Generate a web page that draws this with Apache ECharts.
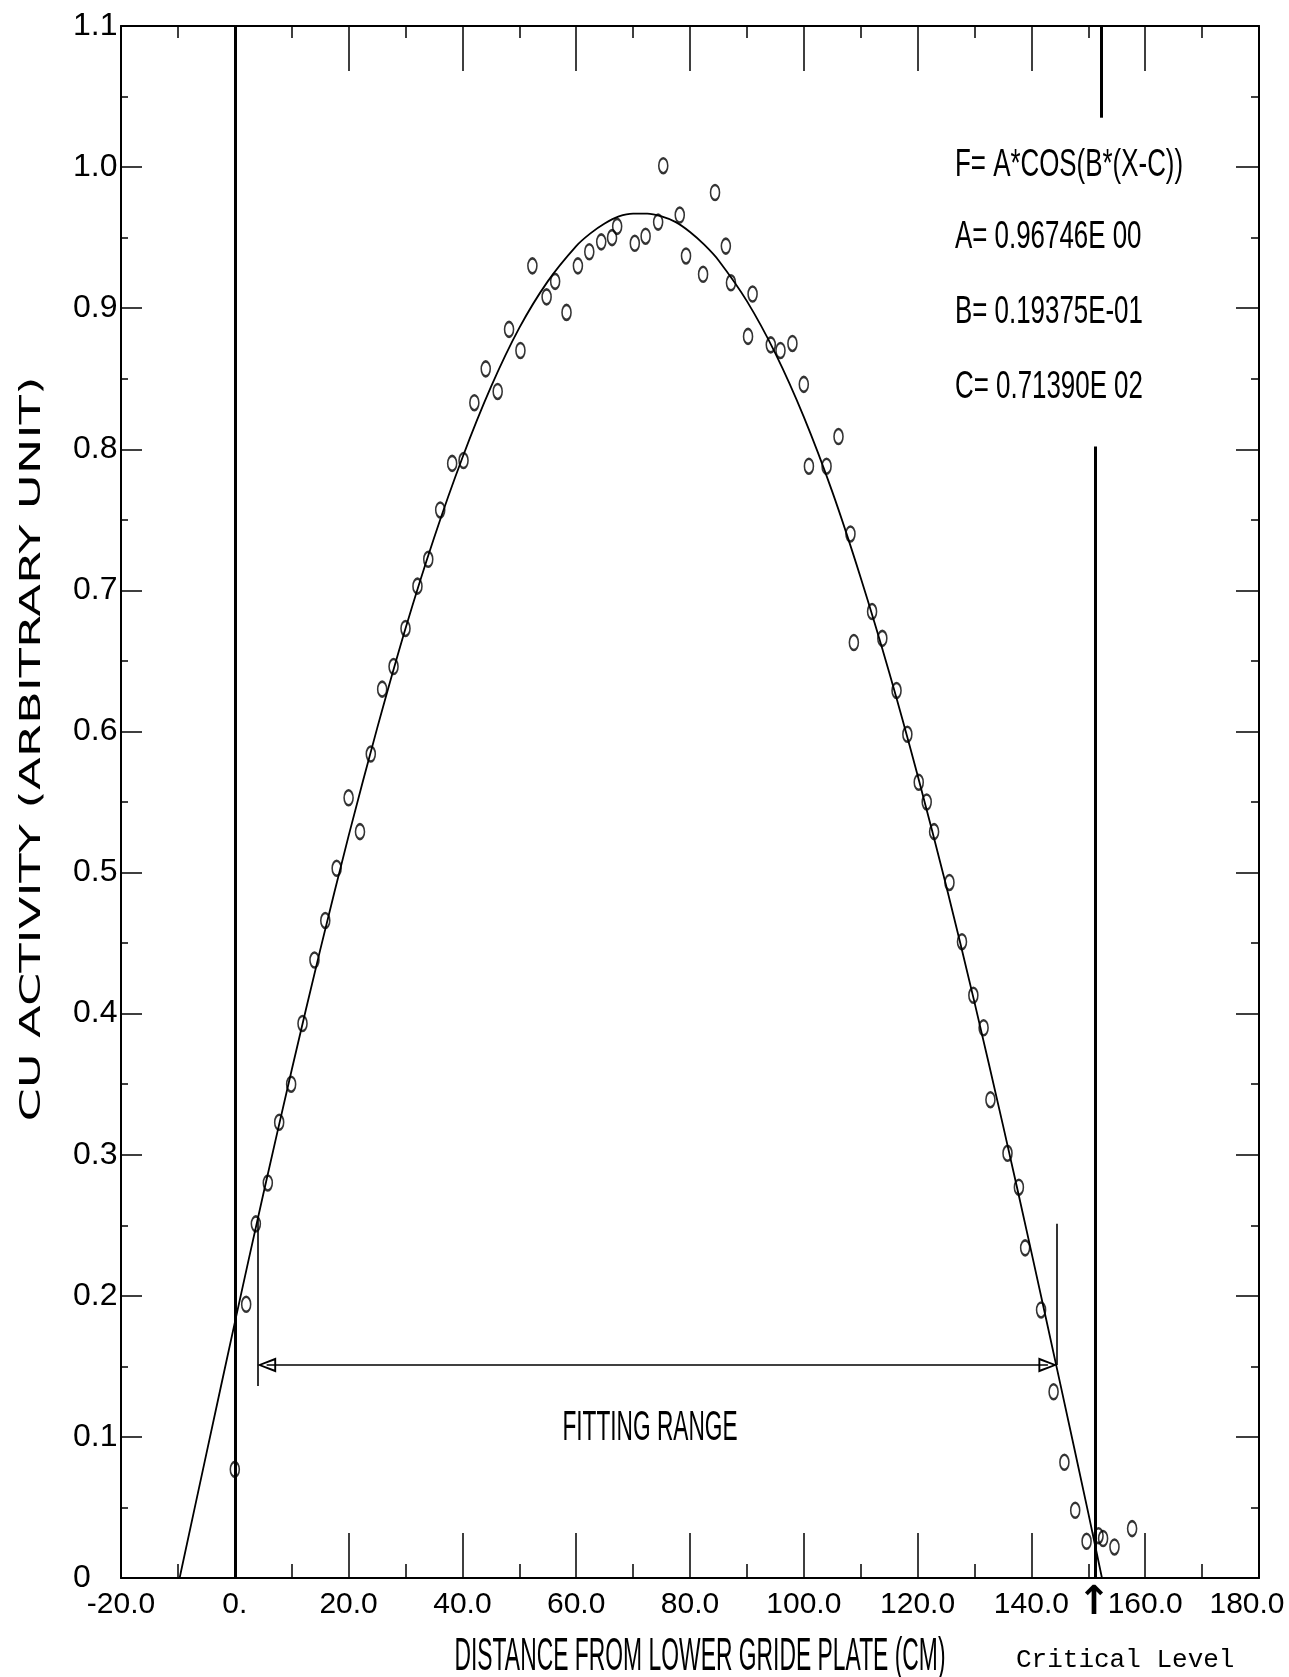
<!DOCTYPE html>
<html>
<head>
<meta charset="utf-8">
<script src="https://cdn.jsdelivr.net/npm/echarts/dist/echarts.min.js"></script>
<style>
html,body{margin:0;padding:0;background:#fff;}
#c{width:1289px;height:1677px;}
</style>
</head>
<body>
<div id="c"></div>
<script>
// ---------- data ----------
const xTickValues = [-20, 0, 20, 40, 60, 80, 100, 120, 140, 160, 180];
const xTickLabels = ['-20.0', '0.', '20.0', '40.0', '60.0', '80.0', '100.0', '120.0', '140.0', '160.0', '180.0'];
const yTickLabels = ['0', '0.1', '0.2', '0.3', '0.4', '0.5', '0.6', '0.7', '0.8', '0.9', '1.0', '1.1'];

// measured Cu activity (open "0" markers)
const pointX = [0.0, 2.0, 3.7, 5.8, 7.8, 9.9, 11.9, 14.0, 15.9, 17.9, 20.0, 22.0, 23.9, 25.9, 27.9, 30.0, 32.1, 34.0, 36.1, 38.2,
  40.2, 42.1, 44.1, 46.2, 48.2, 50.2, 52.3, 54.8, 56.3, 58.3, 60.3, 62.3, 64.4, 66.3, 67.2, 70.3, 72.2, 74.4, 75.3, 78.2,
  79.3, 82.3, 84.4, 86.3, 87.2, 90.2, 91.0, 94.2, 95.9, 98.0, 100.0, 100.9, 104.0, 106.1, 108.2, 108.8, 112.0, 113.8, 116.3, 118.2,
  120.2, 121.6, 122.9, 125.6, 127.8, 129.8, 131.6, 132.8, 135.8, 137.8, 138.9, 141.7, 143.9, 145.8, 147.7, 149.7, 151.8, 152.6, 154.6, 157.7];
const pointY = [0.077, 0.194, 0.251, 0.280, 0.323, 0.350, 0.393, 0.438, 0.466, 0.503, 0.553, 0.529, 0.584, 0.630, 0.646, 0.673, 0.703, 0.722, 0.757, 0.790,
  0.792, 0.833, 0.857, 0.841, 0.885, 0.870, 0.930, 0.908, 0.919, 0.897, 0.930, 0.940, 0.947, 0.950, 0.958, 0.946, 0.951, 0.961, 1.001, 0.966,
  0.937, 0.924, 0.982, 0.944, 0.918, 0.880, 0.910, 0.874, 0.870, 0.875, 0.846, 0.788, 0.788, 0.809, 0.740, 0.663, 0.685, 0.666, 0.629, 0.598,
  0.564, 0.550, 0.529, 0.493, 0.451, 0.413, 0.390, 0.339, 0.301, 0.277, 0.234, 0.190, 0.132, 0.082, 0.048, 0.026, 0.030, 0.028, 0.022, 0.035];

// fitted cosine curve as drawn
const curveX = [-9.7, -5, 0, 5, 10, 15, 20, 25, 30, 35, 40, 45, 50, 55, 60, 62.5, 65, 67.5, 70, 72.5, 75, 77.5, 80, 82.5, 85, 90, 95, 100, 105, 110, 115, 120, 125, 130, 135, 140, 145, 150, 152.4];
const curveY = [0, 0.088, 0.181, 0.272, 0.360, 0.445, 0.526, 0.602, 0.673, 0.737, 0.794, 0.844, 0.886, 0.919, 0.944, 0.953, 0.960, 0.965, 0.967, 0.967, 0.965, 0.961, 0.954, 0.945, 0.934, 0.905, 0.868, 0.823, 0.770, 0.709, 0.642, 0.569, 0.491, 0.408, 0.321, 0.231, 0.139, 0.046, 0];

// reference lines (data coordinates)
const plateX = 0;
const criticalTopX = 152.2, criticalTopY = [1.035, 1.1];
const criticalLowX = 151.3, criticalLowY = [0, 0.802];
const fitLeftX = 4.0, fitLeftY = [0.136, 0.255];
const fitRightX = 144.5, fitRightY = [0.151, 0.251];
const fitArrowY = 0.151;

const formulaLines = ['F= A*COS(B*(X-C))', 'A= 0.96746E 00', 'B= 0.19375E-01', 'C= 0.71390E 02'];

// ---------- chart ----------
const BLACK = '#000';
const tickFont = "'Liberation Sans Narrow', 'Liberation Sans', Arial, sans-serif";

function xLabel(v) {
  const i = Math.round((v + 20) / 20);
  const t = xTickLabels[i] || '';
  return i === xTickLabels.length - 1 ? '{last|' + t + '}' : t;
}
function yLabel(v) { const i = Math.round(v * 10); return yTickLabels[i] || ''; }

const arrowHead = 'path://M0,0 L10,20 L-10,20 Z M0,5 L-6,18 L6,18 Z';
const headShift = 1.6;

const chart = echarts.init(document.getElementById('c'), null, {renderer: 'canvas', width: 1289, height: 1677});

const thinStyle = {color: BLACK, width: 1.6, type: 'solid'};

chart.setOption({
  animation: false,
  backgroundColor: '#fff',
  grid: {left: 121, right: 30, top: 26, bottom: 99, containLabel: false, outerBoundsMode: 'none'},
  xAxis: [
    {
      type: 'value', min: -20, max: 180, interval: 20, position: 'bottom',
      axisLine: {show: true, onZero: false, lineStyle: {color: BLACK, width: 2}},
      axisTick: {show: true, inside: true, length: 45, lineStyle: {color: BLACK, width: 1.5}},
      minorTick: {show: true, splitNumber: 2, length: 14, lineStyle: {color: BLACK, width: 1.5}},
      splitLine: {show: false}, minorSplitLine: {show: false},
      axisLabel: {
        show: true, formatter: xLabel, color: BLACK, fontFamily: tickFont, fontSize: 30, margin: 12,
        showMinLabel: true, showMaxLabel: true, hideOverlap: false,
        rich: {last: {fontFamily: tickFont, fontSize: 30, color: BLACK, padding: [0, 24, 0, 0]}}
      }
    },
    {
      type: 'value', min: -20, max: 180, interval: 20, position: 'top',
      axisLine: {show: true, onZero: false, lineStyle: {color: BLACK, width: 2}},
      axisTick: {show: true, inside: true, length: 45, lineStyle: {color: BLACK, width: 1.5}},
      minorTick: {show: true, splitNumber: 2, length: 12, lineStyle: {color: BLACK, width: 1.5}},
      splitLine: {show: false},
      axisLabel: {show: false}
    }
  ],
  yAxis: [
    {
      type: 'value', min: 0, max: 1.1, interval: 0.1, position: 'left',
      axisLine: {show: true, onZero: false, lineStyle: {color: BLACK, width: 2}},
      axisTick: {show: true, inside: true, length: 21, lineStyle: {color: BLACK, width: 1.5}},
      minorTick: {show: true, splitNumber: 2, length: 7, lineStyle: {color: BLACK, width: 1.5}},
      splitLine: {show: false},
      axisLabel: {show: true, formatter: yLabel, color: BLACK, fontFamily: tickFont, fontSize: 32, align: 'left', margin: 48, showMinLabel: true, showMaxLabel: true}
    },
    {
      type: 'value', min: 0, max: 1.1, interval: 0.1, position: 'right',
      axisLine: {show: true, onZero: false, lineStyle: {color: BLACK, width: 2}},
      axisTick: {show: true, inside: true, length: 23, lineStyle: {color: BLACK, width: 1.5}},
      minorTick: {show: true, splitNumber: 2, length: 8, lineStyle: {color: BLACK, width: 1.5}},
      splitLine: {show: false},
      axisLabel: {show: false}
    }
  ],
  series: [
    {
      name: 'fit', type: 'line', xAxisIndex: 0, yAxisIndex: 0,
      data: curveX.map((x, i) => [x, curveY[i]]),
      smooth: 0.3, showSymbol: false, symbol: 'none',
      lineStyle: {color: BLACK, width: 1.8},
      z: 3,
      markLine: {
        silent: true, symbol: 'none', animation: false,
        label: {show: false},
        lineStyle: thinStyle,
        data: [
          [{coord: [plateX, 0], lineStyle: {width: 3}}, {coord: [plateX, 1.1]}],
          [{coord: [criticalTopX, criticalTopY[0]], lineStyle: {width: 3}}, {coord: [criticalTopX, criticalTopY[1]]}],
          [{coord: [criticalLowX, criticalLowY[0]], lineStyle: {width: 3}}, {coord: [criticalLowX, criticalLowY[1]]}],
          [{coord: [fitLeftX, fitLeftY[0]]}, {coord: [fitLeftX, fitLeftY[1]]}],
          [{coord: [fitRightX, fitRightY[0]]}, {coord: [fitRightX, fitRightY[1]]}],
          [{coord: [fitLeftX + headShift, fitArrowY], symbol: arrowHead, symbolSize: [15, 19]},
           {coord: [fitRightX - headShift, fitArrowY], symbol: arrowHead, symbolSize: [15, 19]}]
        ]
      }
    },
    {
      name: 'Cu activity', type: 'scatter', xAxisIndex: 0, yAxisIndex: 0,
      data: pointX.map((x, i) => [x, pointY[i]]),
      symbol: 'circle', symbolSize: [9, 15],
      itemStyle: {color: 'rgba(255,255,255,0)', borderColor: BLACK, borderWidth: 2},
      z: 4
    }
  ],
  graphic: [
    // formula block
    ...formulaLines.map((t, i) => ({
      type: 'text', x: 955, y: [165, 237, 312, 387][i], scaleX: 0.70, scaleY: 1.05, z: 10,
      style: {text: t, fontFamily: "'Liberation Sans', Arial, sans-serif", fontSize: 37, fill: BLACK,
        align: 'left', verticalAlign: 'middle', textAlign: 'left', textVerticalAlign: 'middle'}
    })),
    {
      type: 'text', x: 650, y: 1428, scaleX: 0.54, scaleY: 1.0, z: 10,
      style: {text: 'FITTING RANGE', fontFamily: "'Liberation Sans', Arial, sans-serif", fontSize: 42, fill: BLACK,
        align: 'center', verticalAlign: 'middle', textAlign: 'center', textVerticalAlign: 'middle'}
    },
    {
      type: 'text', x: 700, y: 1657, scaleX: 0.52, scaleY: 1.05, z: 10,
      style: {text: 'DISTANCE FROM LOWER GRIDE PLATE (CM)', fontFamily: "'Liberation Sans', Arial, sans-serif", fontSize: 44, fill: BLACK,
        align: 'center', verticalAlign: 'middle', textAlign: 'center', textVerticalAlign: 'middle'}
    },
    {
      type: 'text', x: 32, y: 749, rotation: Math.PI / 2, scaleX: 1.65, scaleY: 1.0, z: 10,
      style: {text: 'CU ACTIVITY (ARBITRARY UNIT)', fontFamily: "'DejaVu Sans', sans-serif", fontSize: 29, fill: BLACK,
        align: 'center', verticalAlign: 'middle', textAlign: 'center', textVerticalAlign: 'middle'}
    },
    {
      type: 'text', x: 1094, y: 1604, z: 10,
      style: {text: '↑', fontFamily: "'DejaVu Sans', sans-serif", fontWeight: 'bold', fontSize: 40, fill: BLACK,
        align: 'center', verticalAlign: 'middle', textAlign: 'center', textVerticalAlign: 'middle'}
    },
    {
      type: 'text', x: 1016, y: 1660, z: 10,
      style: {text: 'Critical Level', fontFamily: "'Liberation Mono', 'Courier New', monospace", fontSize: 26, fill: BLACK,
        align: 'left', verticalAlign: 'middle', textAlign: 'left', textVerticalAlign: 'middle'}
    }
  ]
});
</script>
</body>
</html>
